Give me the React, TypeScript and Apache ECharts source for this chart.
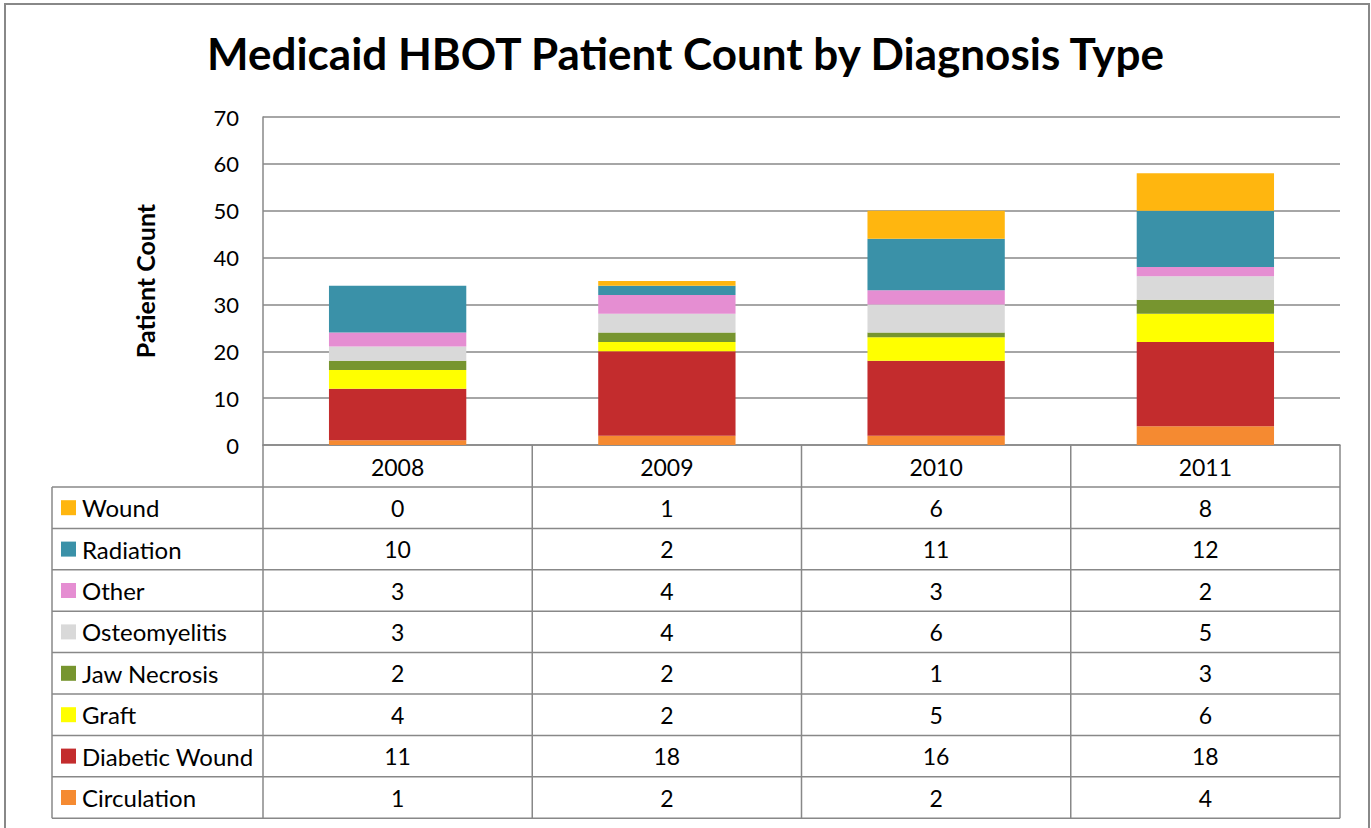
import React, { useEffect, useRef } from "react";
import * as echarts from "echarts";

const years = ["2008", "2009", "2010", "2011"];
const seriesNames = ["Circulation", "Diabetic Wound", "Graft", "Jaw Necrosis", "Osteomyelitis", "Other", "Radiation", "Wound"];
const circulation = [1, 2, 2, 4];
const diabeticWound = [11, 18, 16, 18];
const graft = [4, 2, 5, 6];
const jawNecrosis = [2, 2, 1, 3];
const osteomyelitis = [3, 4, 6, 5];
const other = [3, 4, 3, 2];
const radiation = [10, 2, 11, 12];
const wound = [0, 1, 6, 8];
const seriesValues = [circulation, diabeticWound, graft, jawNecrosis, osteomyelitis, other, radiation, wound];
const colors = ["#F58A31", "#C32C2D", "#FFFF00", "#77952F", "#D9D9D9", "#E58ED2", "#3A91A8", "#FFB60F"];
const yTicks = { min: 0, max: 70, interval: 10 };
const title = "Medicaid HBOT Patient Count by Diagnosis Type";
const yName = "Patient Count";

const FONT = "Lato";
const W = 1371, H = 828;
const GL = 263, GR = 1340, GT = 117, GB = 445;
const HEADER_B = 487;
const ROW_H = 41.4;
const TABLE_L = 52;
const LINE = "#888888";

export default function App() {
  const ref = useRef<HTMLDivElement>(null);
  useEffect(() => {
    const chart = echarts.init(ref.current!, undefined, { renderer: "svg" });
    const colW = (GR - GL) / years.length;
    const graphics: any[] = [];
    graphics.push({ type: "rect", shape: { x: 5, y: 4, width: 1364, height: 840 }, style: { fill: "none", stroke: LINE, lineWidth: 2 }, silent: true });
    const nRows = seriesNames.length;
    for (let k = 0; k <= nRows; k++) {
      const y = HEADER_B + k * ROW_H;
      graphics.push({ type: "line", shape: { x1: TABLE_L, y1: y, x2: GR, y2: y }, style: { stroke: LINE, lineWidth: 1.5 } });
    }
    const tableBottom = HEADER_B + nRows * ROW_H;
    graphics.push({ type: "line", shape: { x1: TABLE_L, y1: HEADER_B, x2: TABLE_L, y2: tableBottom }, style: { stroke: LINE, lineWidth: 1.5 } });
    for (let i = 0; i <= years.length; i++) {
      const x = GL + i * colW;
      graphics.push({ type: "line", shape: { x1: x, y1: GB, x2: x, y2: tableBottom }, style: { stroke: LINE, lineWidth: 1.5 } });
    }
    for (let r = 0; r < nRows; r++) {
      const s = nRows - 1 - r;
      const cy = HEADER_B + r * ROW_H + ROW_H / 2;
      graphics.push({ type: "rect", shape: { x: 61, y: cy - 7.5, width: 15, height: 15 }, style: { fill: colors[s] } });
      graphics.push({ type: "text", x: 82, y: cy, style: { text: seriesNames[s], font: `24px ${FONT}`, fill: "#000", textAlign: "left", textVerticalAlign: "middle" } });
      for (let i = 0; i < years.length; i++) {
        graphics.push({ type: "text", x: GL + (i + 0.5) * colW, y: cy, style: { text: String(seriesValues[s][i]), font: `23px ${FONT}`, fill: "#000", textAlign: "center", textVerticalAlign: "middle" } });
      }
    }
    chart.setOption({
      animation: false,
      title: { text: title, left: "center", top: 26, textStyle: { fontFamily: FONT, fontWeight: "bold", fontSize: 44, color: "#000" } },
      grid: { left: GL, right: W - GR, top: GT, bottom: H - GB, containLabel: false },
      xAxis: {
        type: "category", data: years,
        axisLine: { show: true, lineStyle: { color: LINE, width: 1.5 } },
        axisTick: { show: false },
        axisLabel: { color: "#000", fontFamily: FONT, fontSize: 23, margin: 10 },
      },
      yAxis: {
        type: "value", min: yTicks.min, max: yTicks.max, interval: yTicks.interval,
        name: yName, nameLocation: "middle", nameGap: 106, nameRotate: 90,
        nameTextStyle: { fontFamily: FONT, fontWeight: "bold", fontSize: 25, color: "#000" },
        axisLine: { show: true, lineStyle: { color: LINE, width: 1.5 } },
        axisTick: { show: false },
        axisLabel: { color: "#000", fontFamily: FONT, fontSize: 22, margin: 24 },
        splitLine: { show: true, lineStyle: { color: LINE, width: 1.5 } },
      },
      series: seriesNames.map((n, s) => ({
        name: n, type: "bar", stack: "total", data: seriesValues[s], barWidth: "51%",
        itemStyle: { color: colors[s] },
      })),
      graphic: graphics,
    });
    return () => chart.dispose();
  }, []);
  return <div ref={ref} style={{ position: "fixed", left: 0, top: 0, width: W, height: H, background: "#fff" }} />;
}
